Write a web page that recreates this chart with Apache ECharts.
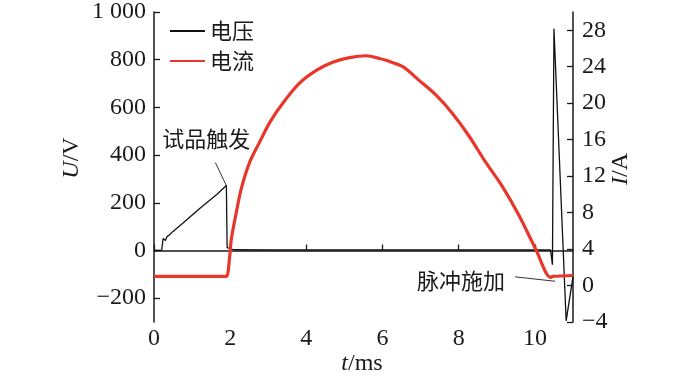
<!DOCTYPE html>
<html>
<head>
<meta charset="utf-8">
<script src="https://cdn.jsdelivr.net/npm/echarts@6/dist/echarts.min.js"></script>
<style>html,body{margin:0;padding:0;background:#fff;}#c{width:700px;height:380px;}</style>
</head>
<body>
<div id="c"></div>
<script>
// ---- data ----
var timeU = [0, 0.2, 0.24, 0.27, 0.3, 0.34, 0.4, 0.5, 0.77, 1.2, 1.64, 1.9, 1.92, 1.97, 2.1, 3, 5, 7, 9, 10.41, 10.46, 10.5, 10.82, 11];
var voltage = [0, 0, 50, 55, 42, 58, 65, 80, 116, 176, 234, 272, 12, 5, 3, 2, 2, 2, 2, 2, -60, 930, -295, -110];
var timeI = [0, 1.85, 1.91, 1.99, 2.03, 2.16, 2.29, 2.51, 2.77, 3.04, 3.38, 3.82, 4.26, 4.69, 5.13, 5.57, 5.92, 6.09, 6.53, 6.96, 7.4, 7.83, 8.27, 8.71, 9.14, 9.58, 10.02, 10.41, 10.47, 11];
var current = [1.0, 1.0, 1.0, 3.3, 5.1, 8.0, 10.6, 13.5, 15.7, 17.9, 20.0, 22.2, 23.6, 24.5, 25.0, 25.2, 24.9, 24.7, 24.0, 22.5, 20.9, 18.9, 16.4, 13.5, 10.9, 7.7, 4.0, 0.9, 1.0, 1.1];
var xTicks = [0, 2, 4, 6, 8, 10];
var uTicks = [-200, 0, 200, 400, 600, 800, 1000];
var iTicks = [-4, 0, 4, 8, 12, 16, 20, 24, 28];
var seriesNames = ['电压', '电流'];
var annoTrigger = '试品触发';
var annoPulse = '脉冲施加';

function zip(a, b) { return a.map(function (v, i) { return [v, b[i]]; }); }

var NUM_FONT = '"Liberation Serif", "DejaVu Serif", serif';
var CJK_FONT = '"Noto Sans CJK SC", sans-serif';
var INK = '#1a1a1a';
var RED = '#e8372a';
var FS = 24;

var chart = echarts.init(document.getElementById('c'), null, {renderer: 'canvas'});

function fmtNum(v) {
  if (v === 1000) return '1 000';
  if (v < 0) return '\u2212' + (-v);
  return String(v);
}

var axisLine = {show: true, lineStyle: {color: INK, width: 1.5}};
var tickBase = {show: true, inside: true, length: 6, lineStyle: {color: INK, width: 1.3}};
var labelBase = {color: INK, fontFamily: NUM_FONT, fontSize: FS};

var option = {
  animation: false,
  backgroundColor: '#fff',
  grid: {left: 154, right: 127, top: 10, bottom: 58, containLabel: false},
  legend: {
    data: seriesNames,
    orient: 'vertical',
    left: 165, top: 15,
    icon: 'rect', itemWidth: 35, itemHeight: 2, itemGap: 8,
    textStyle: {fontFamily: CJK_FONT, fontSize: 22, lineHeight: 22, color: INK}
  },
  xAxis: {
    type: 'value', min: 0, max: 11,
    axisLine: axisLine,
    axisTick: Object.assign({}, tickBase, {customValues: xTicks}),
    axisLabel: Object.assign({}, labelBase, {customValues: xTicks, margin: 5}),
    splitLine: {show: false}
  },
  yAxis: [{
    type: 'value', min: -300, max: 1000, position: 'left',
    axisLine: axisLine,
    axisTick: Object.assign({}, tickBase, {customValues: uTicks}),
    axisLabel: Object.assign({}, labelBase, {customValues: uTicks, margin: 8, formatter: fmtNum}),
    splitLine: {show: false}
  }, {
    type: 'value', min: -4, max: 30, position: 'right',
    axisLine: axisLine,
    axisTick: Object.assign({}, tickBase, {customValues: iTicks}),
    axisLabel: Object.assign({}, labelBase, {customValues: iTicks, margin: 9, formatter: fmtNum}),
    splitLine: {show: false}
  }],
  series: [{
    name: seriesNames[0], type: 'line', yAxisIndex: 0, showSymbol: false, symbol: 'none',
    data: zip(timeU, voltage),
    lineStyle: {color: '#111', width: 1.3},
    itemStyle: {color: '#111'},
    z: 2
  }, {
    name: seriesNames[1], type: 'line', yAxisIndex: 1, showSymbol: false, symbol: 'none',
    data: zip(timeI, current),
    smooth: 0.3,
    lineStyle: {color: RED, width: 3.2},
    itemStyle: {color: RED},
    z: 3
  }]
};
chart.setOption(option);

// annotations anchored to data points
var a1 = chart.convertToPixel({xAxisIndex: 0, yAxisIndex: 0}, [timeU[11], voltage[11]]);
var a2 = chart.convertToPixel({xAxisIndex: 0, yAxisIndex: 1}, [10.53, 0.47]);

function axisName(x, y, rot, italic, rest) {
  return {type: 'text', x: x, y: y, rotation: rot,
    style: {text: '{i|' + italic + '}{n|' + rest + '}', align: 'center', verticalAlign: 'middle',
      rich: {i: {fontStyle: 'italic', fontFamily: NUM_FONT, fontSize: FS, fill: INK},
             n: {fontFamily: NUM_FONT, fontSize: FS, fill: INK}}}};
}

chart.setOption({
  graphic: [
    axisName(72, 158, Math.PI / 2, 'U', '/V'),
    axisName(621, 169, Math.PI / 2, 'I', '/A'),
    axisName(362, 364, 0, 't', '/ms'),
    {type: 'line', shape: {x1: a1[0] - 11, y1: a1[1] - 23, x2: a1[0], y2: a1[1]}, style: {stroke: '#333', lineWidth: 1}},
    {type: 'text', x: a1[0] - 20, y: a1[1] - 47,
      style: {text: annoTrigger, fill: INK, font: '22px ' + CJK_FONT, align: 'center', verticalAlign: 'middle'}},
    {type: 'line', shape: {x1: a2[0] - 40, y1: a2[1] - 4.4, x2: a2[0], y2: a2[1]}, style: {stroke: '#333', lineWidth: 1}},
    {type: 'text', x: a2[0] - 94, y: a2[1] - 1,
      style: {text: annoPulse, fill: INK, font: '22px ' + CJK_FONT, align: 'center', verticalAlign: 'middle'}}
  ]
});
</script>
</body>
</html>
